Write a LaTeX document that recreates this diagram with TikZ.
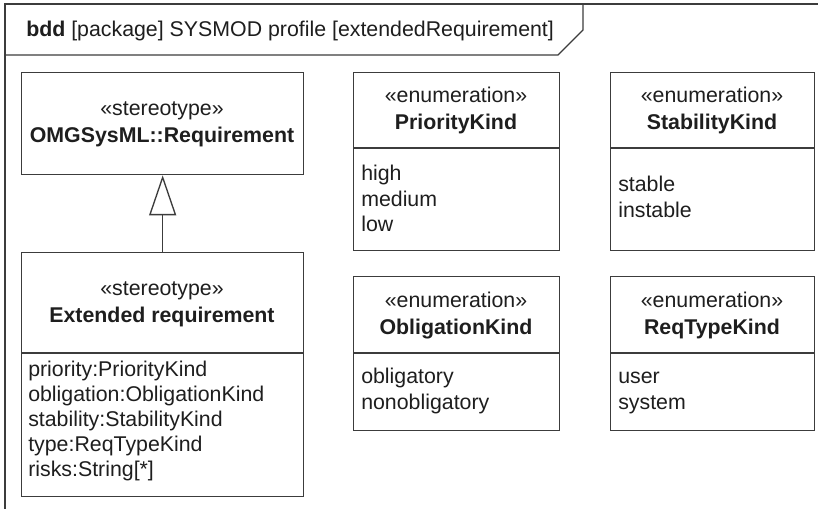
\documentclass[tikz,border=0pt]{standalone}
\usepackage{fontspec}
\setmainfont{Liberation Sans}
\usetikzlibrary{arrows.meta}
\definecolor{linegray}{RGB}{60,60,60}
\definecolor{textgray}{RGB}{30,30,30}

\tikzset{
  umlbox/.style={draw=linegray, line width=1pt, inner sep=0pt, anchor=north west},
  umlline/.style={draw=linegray, line width=1pt},
  stereo/.style={text=textgray, font=\fontsize{16}{19}\selectfont, anchor=base, inner sep=0pt},
  classname/.style={text=textgray, font=\fontsize{16}{19}\selectfont\bfseries, anchor=base, inner sep=0pt},
  entry/.style={text=textgray, font=\fontsize{16}{19}\selectfont, anchor=base west, inner sep=0pt}
}

\begin{document}
\begin{tikzpicture}[x=0.75pt, y=-0.75pt]

% Canvas (pixel grid, 818 x 509)
\useasboundingbox (0,0) rectangle (818,509);
\fill[white] (0,0) rectangle (818,509);

% Frame & name tab
\draw[umlline] (818,4) -- (5,4) -- (5,509);
\draw[umlline] (5,55) -- (558,55) -- (583,30) -- (583,4);
\node[entry] (title) at (26,37) {\textbf{bdd} [package] SYSMOD profile [extendedRequirement]};

% 1. STEREOTYPES (left column)
% OMGSysML::Requirement
\node[umlbox, minimum width=211.5pt, minimum height=76.5pt] (requirement) at (21,72) {};
\node[stereo] (reqstereo) at (162,116) {«stereotype»};
\node[classname] (reqname) at (162,143) {OMGSysML::Requirement};

% Extended requirement
\node[umlbox, minimum width=211.5pt, minimum height=183pt] (extended) at (21,252) {};
\draw[umlline] (21,353) -- (303,353);
\node[stereo] (extstereo) at (162,296) {«stereotype»};
\node[classname] (extname) at (162,323) {Extended requirement};
\foreach \attr [count=\i from 0] in {priority:PriorityKind, obligation:ObligationKind, stability:StabilityKind, type:ReqTypeKind, risks:String[*]}
  \node[entry] (extattr\i) at (28,377+24.8*\i) {\attr};

% Generalization
\draw[umlline, -{Triangle[open, length=30pt, width=20.25pt]}] (extended.north) -- (requirement.south);

% 2. ENUMERATIONS
% PriorityKind
\node[umlbox, minimum width=154.5pt, minimum height=133.5pt] (priority) at (353,72) {};
\draw[umlline] (353,148) -- (559,148);
\node[stereo] (priostereo) at (456,103) {«enumeration»};
\node[classname] (prioname) at (456,130) {PriorityKind};
\foreach \lit [count=\i from 0] in {high, medium, low}
  \node[entry] (priolit\i) at (361,181+25.5*\i) {\lit};

% StabilityKind
\node[umlbox, minimum width=153pt, minimum height=133.5pt] (stability) at (610,72) {};
\draw[umlline] (610,148) -- (814,148);
\node[stereo] (stabstereo) at (712,103) {«enumeration»};
\node[classname] (stabname) at (712,130) {StabilityKind};
\foreach \lit [count=\i from 0] in {stable, instable}
  \node[entry] (stablit\i) at (618,192+25.5*\i) {\lit};

% ObligationKind
\node[umlbox, minimum width=154.5pt, minimum height=115.5pt] (obligation) at (353,276) {};
\draw[umlline] (353,353) -- (559,353);
\node[stereo] (obligstereo) at (456,308) {«enumeration»};
\node[classname] (obligname) at (456,335) {ObligationKind};
\foreach \lit [count=\i from 0] in {obligatory, nonobligatory}
  \node[entry] (obliglit\i) at (361,384+25.5*\i) {\lit};

% ReqTypeKind
\node[umlbox, minimum width=153pt, minimum height=115.5pt] (reqtype) at (610,276) {};
\draw[umlline] (610,353) -- (814,353);
\node[stereo] (reqtstereo) at (712,308) {«enumeration»};
\node[classname] (reqtname) at (712,335) {ReqTypeKind};
\foreach \lit [count=\i from 0] in {user, system}
  \node[entry] (reqtlit\i) at (618,384+25.5*\i) {\lit};

\end{tikzpicture}
\end{document}
